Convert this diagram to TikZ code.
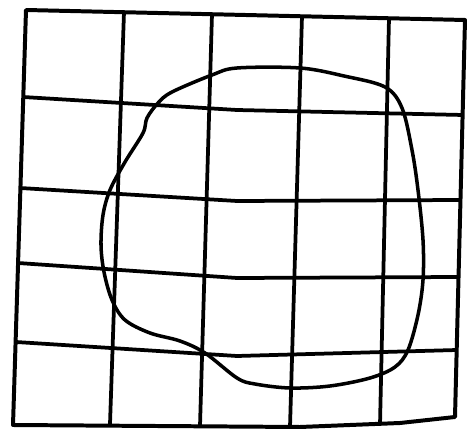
\documentclass[tikz,border=0pt]{standalone}
\usepackage{tikz}

\begin{document}
\begin{tikzpicture}[x=0.03cm,y=-0.03cm]
\useasboundingbox (0,0) rectangle (474,430);
\draw[line width=3.4pt,line join=round] (26,10) -- (465,20) -- (455,417) -- (400,423) -- (300,427) -- (13,425) -- cycle;
\draw[line width=3.2pt] (124,12) -- (110,424);
\draw[line width=3.2pt] (212,14) -- (200,426);
\draw[line width=3.2pt] (302,16) -- (290,427);
\draw[line width=3.2pt] (389,18) -- (380,425);
\draw[line width=3.2pt] (23,97) -- (237,110) -- (463,115);
\draw[line width=3.2pt] (20,188) -- (237,201) -- (461,200);
\draw[line width=3.2pt] (18,263) -- (237,278) -- (459,277);
\draw[line width=3.2pt] (16,342) -- (237,356) -- (457,350);
\draw[line width=3pt,line join=round] plot[smooth cycle,tension=0.55] coordinates {
  (237,68) (300,68) (344,76) (385,87) (402,108) (412,150) (418,190) (423,240)
  (423,280) (418,315) (408,350) (395,367) (370,378) (330,386) (290,388) (255,384)
  (237,378) (205,353) (180,341) (150,333) (125,320) (112,300) (104,272) (101,245)
  (103,215) (110,190) (125,162) (143,133) (147,118) (158,103) (172,92) (212,75)};
\end{tikzpicture}
\end{document}
